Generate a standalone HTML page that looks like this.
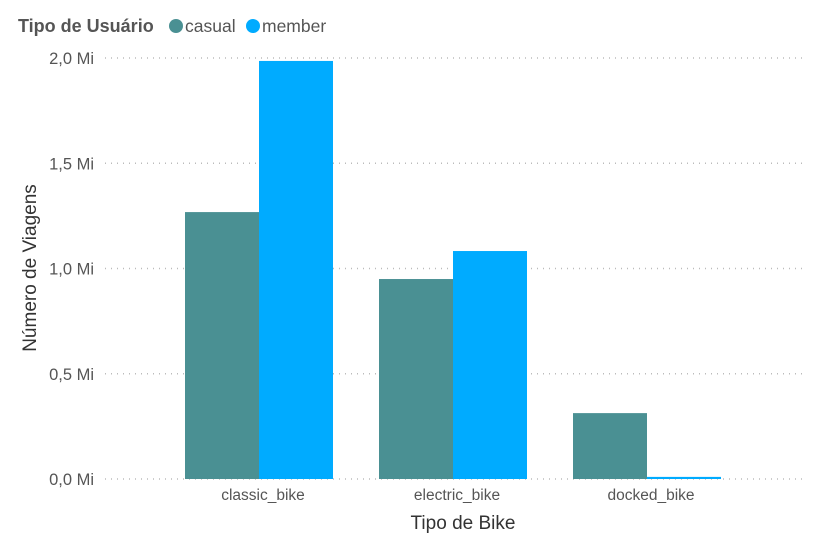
<!DOCTYPE html>
<html><head><meta charset="utf-8"><style>
body{margin:0;background:#fff;width:816px;height:547px;overflow:hidden;font-family:"Liberation Sans",sans-serif}
</style></head><body>
<svg width="816" height="547">
<g>
<text x="18" y="32" font-size="18" font-weight="bold" fill="#555">Tipo de Usuário</text>
<circle cx="176" cy="26" r="7" fill="#4a9093"/>
<text x="185" y="32" font-size="17.5" fill="#555">casual</text>
<circle cx="253" cy="26" r="7" fill="#00abff"/>
<text x="262" y="32" font-size="17.5" fill="#555">member</text>
</g>
<g id="grid"></g><g id="bars"></g><g id="xl"></g>
<text x="463" y="529" font-size="19" fill="#333" text-anchor="middle">Tipo de Bike</text>
<text transform="translate(36,268) rotate(-90)" font-size="19" fill="#333" text-anchor="middle">Número de Viagens</text>
</svg>
<script>
const categories=["classic_bike","electric_bike","docked_bike"];
const casual=[1.268,0.950,0.313];
const member=[1.986,1.083,0.01];
const ticks=[0,0.5,1.0,1.5,2.0];
const tickLabels=["0,0 Mi","0,5 Mi","1,0 Mi","1,5 Mi","2,0 Mi"];
const NS="http://www.w3.org/2000/svg";
const y0=479,pxPer=210.5;
const yS=v=>y0-v*pxPer;
const xC=i=>259+i*194;
const bw=74;
function mk(t,a,p){const e=document.createElementNS(NS,t);for(const k in a)e.setAttribute(k,a[k]);p.appendChild(e);return e;}
const g=document.getElementById('grid');
ticks.forEach((t,i)=>{
 const l=mk('line',{x1:105,x2:805,y1:yS(t),y2:yS(t),stroke:'#bbb','stroke-dasharray':'1,5','stroke-width':1.5},g);
 
 
 const tx=mk('text',{x:94,y:yS(t)+6,'font-size':16.5,fill:'#555','text-anchor':'end'},g);
 tx.textContent=tickLabels[i];
 
 
});
const b=document.getElementById('bars'),xl=document.getElementById('xl');
categories.forEach((c,i)=>{
 const r1=mk('rect',{x:xC(i)-bw,y:yS(casual[i]),width:bw,height:casual[i]*pxPer,fill:'#4a9093'},b);
 
 
 const r2=mk('rect',{x:xC(i),y:yS(member[i]),width:bw,height:member[i]*pxPer,fill:'#00abff'},b);
 
 
 const t=mk('text',{x:xC(i)+4,y:500,'font-size':15.5,fill:'#555','text-anchor':'middle'},xl);
 t.textContent=c;
 
 
});
</script>
</body></html>
